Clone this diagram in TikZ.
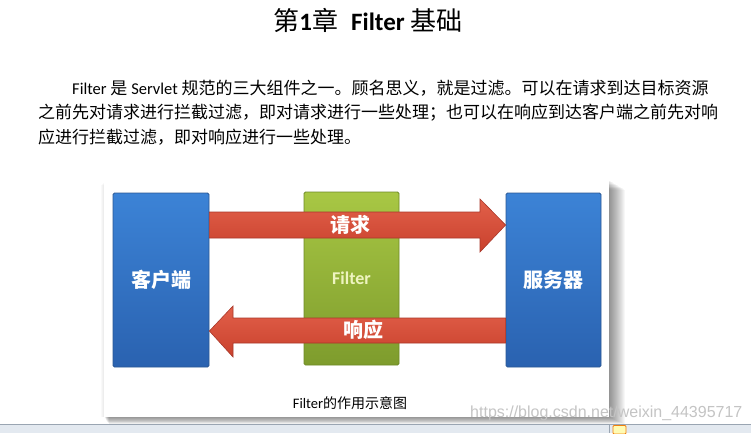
\documentclass[tikz,border=0pt]{standalone}
\usepackage{fontspec}
\setmainfont{Noto Sans CJK SC}
\newfontfamily\calfont{Carlito}
\newfontfamily\wmfont{Liberation Sans}
\usetikzlibrary{calc}
\definecolor{boxtop}{HTML}{3C83D6}
\definecolor{boxbot}{HTML}{2A62B0}
\definecolor{boxedge}{HTML}{2B5894}
\definecolor{grntop}{HTML}{A8C744}
\definecolor{grnbot}{HTML}{7E9C2D}
\definecolor{grnedge}{HTML}{6E8A26}
\definecolor{arrtop}{HTML}{E2604A}
\definecolor{arrbot}{HTML}{C9412D}
\definecolor{arredge}{HTML}{A9382A}
\definecolor{filtertxt}{HTML}{EEF4C0}
\definecolor{barbg}{HTML}{E3E9F0}
\definecolor{barline}{HTML}{9AA5B2}
\definecolor{wmgray}{HTML}{C4C4C4}
\tikzset{
  bluebox/.style={draw=boxedge, line width=0.8pt, rounded corners=1.5pt,
    top color=boxtop, bottom color=boxbot, text=white,
    font=\fontsize{20}{20}\selectfont\bfseries, inner sep=0pt},
  greenbox/.style={draw=grnedge, line width=0.8pt, rounded corners=1.5pt,
    top color=grntop, bottom color=grnbot, text=filtertxt,
    font=\calfont\bfseries\fontsize{18}{18}\selectfont, inner sep=0pt},
  bigarrow/.style={draw=arredge, line width=0.6pt, top color=arrtop, bottom color=arrbot},
  arrlabel/.style={text=white, font=\fontsize{20}{20}\selectfont\bfseries, inner sep=0pt},
  bodyline/.style={anchor=west, inner sep=0pt, font=\fontsize{17}{17}\selectfont},
}
\begin{document}
\begin{tikzpicture}[x=1pt,y=-1pt]
\useasboundingbox (0,0) rectangle (751,433);
\fill[white] (0,0) rectangle (751,433);

% title
\node[inner sep=0pt, font=\fontsize{26}{26}\selectfont] (title) at (368,20)
  {第{\calfont\bfseries\fontsize{25}{25}\selectfont 1}章\hspace{13pt}{\calfont\bfseries\fontsize{25}{25}\selectfont Filter} 基础};

% paragraph
\node[bodyline] (p1) at (72,88)
  {{\calfont\fontsize{16.5}{16.5}\selectfont Filter} 是 {\calfont\fontsize{16.5}{16.5}\selectfont Servlet} 规范的三大组件之一。顾名思义，就是过滤。可以在请求到达目标资源};
\node[bodyline] (p2) at (38,113)
  {之前先对请求进行拦截过滤，即对请求进行一些处理；也可以在响应到达客户端之前先对响};
\node[bodyline] (p3) at (38,137)
  {应进行拦截过滤，即对响应进行一些处理。};

% figure panel with soft shadow
\foreach \i in {1,...,16} {
  \fill[black, opacity=0.03] ({104+0.3*\i},{180+0.6*\i}) rectangle ({609+\i},{417+0.45*\i});
}
\foreach \i in {1,...,3} {
  \fill[black, opacity=0.025] ({104-\i},{182+\i}) rectangle (106,417);
}
\fill[white] (104,180) rectangle (609,417);

% boxes
\node[bluebox, minimum width=96pt, minimum height=174pt] (client) at (161,280) {客户端};
\node[greenbox, minimum width=95pt, minimum height=173pt] (filter) at (351.5,278.5) {Filter};
\node[bluebox, minimum width=95pt, minimum height=174pt] (server) at (553.5,280) {服务器};

% level coordinates
\coordinate (qa) at (480,212);
\coordinate (qb) at (480,199);
\coordinate (qc) at (0,225);
\coordinate (qd) at (480,252);
\coordinate (qe) at (480,238);
\coordinate (ra) at (233,318);
\coordinate (rb) at (233,306);
\coordinate (rc) at (0,331);
\coordinate (rd) at (233,357);
\coordinate (re) at (233,343);

% request arrow (client -> server)
\path[bigarrow] (client.east |- qa) -- (qa) -- (qb) -- (server.west |- qc) -- (qd) -- (qe)
  -- (client.east |- qe) -- cycle;
% response arrow (server -> client)
\path[bigarrow] (server.west |- ra) -- (ra) -- (rb) -- (client.east |- rc) -- (rd) -- (re)
  -- (server.west |- re) -- cycle;

\node[arrlabel] (req) at (350,225) {请求};
\node[arrlabel] (resp) at (363,330) {响应};

% caption
\node[inner sep=0pt, font=\fontsize{14}{14}\selectfont] (cap) at (350,403)
  {{\calfont\fontsize{14.5}{14.5}\selectfont Filter}的作用示意图};

% watermark
\node[inner sep=0pt, anchor=west, text=wmgray, font=\wmfont\fontsize{16}{16}\selectfont] (wm) at (470,413)
  {https://blog.csdn.net/weixin\_44395717};

% status bar
\fill[barbg] (0,424) rectangle (751,433);
\draw[barline, line width=0.8pt] (0,424) -- (751,424);
\draw[barline] (609,425) -- (609,433);
\draw[orange!80!brown, line width=0.8pt, rounded corners=1pt, fill=yellow!30] (613,425.5) rectangle (626,434);
\end{tikzpicture}
\end{document}
